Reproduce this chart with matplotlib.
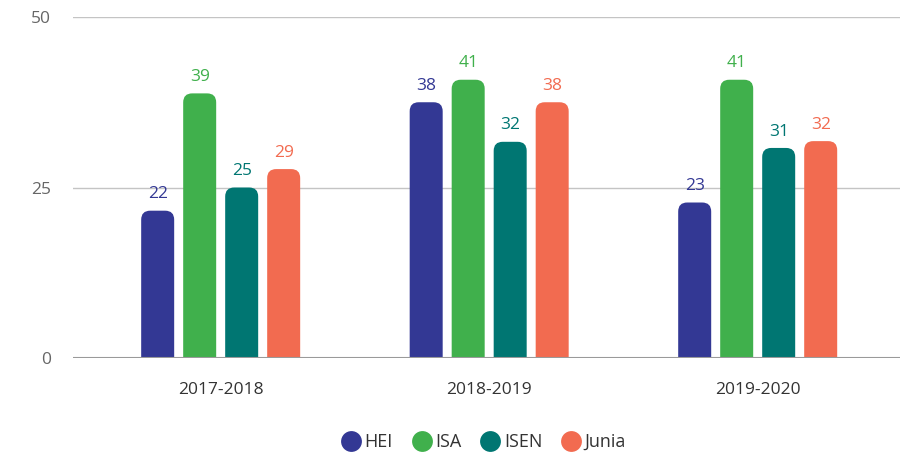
import matplotlib
matplotlib.use('Agg')
import matplotlib.pyplot as plt
from matplotlib.patches import FancyBboxPatch
from matplotlib.lines import Line2D

plt.rcParams['font.family'] = ['Open Sans', 'DejaVu Sans']

years = ['2017-2018', '2018-2019', '2019-2020']
schools = ['HEI', 'ISA', 'ISEN', 'Junia']
colors = ['#333894', '#40b04c', '#007672', '#f26b50']

# bar heights as drawn, and the labels printed above them
hei = [21.6, 37.5, 22.8]
isa = [38.8, 40.8, 40.8]
isen = [25.0, 31.7, 30.8]
junia = [27.7, 37.5, 31.8]
hei_lbl = ['22', '38', '23']
isa_lbl = ['39', '41', '41']
isen_lbl = ['25', '32', '31']
junia_lbl = ['29', '38', '32']

series = [hei, isa, isen, junia]
labels = [hei_lbl, isa_lbl, isen_lbl, junia_lbl]

W, H, DPI = 903, 458, 100
fig = plt.figure(figsize=(W / DPI, H / DPI), dpi=DPI)
ax_l, ax_r, ax_b, ax_t = 73, 900, 100, 441
ax = fig.add_axes([ax_l / W, ax_b / H, (ax_r - ax_l) / W, (ax_t - ax_b) / H])

xmin, xmax = -0.55, 2.53
ymin, ymax = 0, 50
ax.set_xlim(xmin, xmax)
ax.set_ylim(ymin, ymax)

px_x = (ax_r - ax_l) / (xmax - xmin)
px_y = (ax_t - ax_b) / (ymax - ymin)
aspect = px_x / px_y

width = 33 / px_x
pitch = 42 / px_x
radius = 9 / px_x
offsets = [(i - 1.5) * pitch for i in range(len(schools))]

for s, (vals, lbls, col) in enumerate(zip(series, labels, colors)):
    for i, (v, t) in enumerate(zip(vals, lbls)):
        x = i + offsets[s]
        box = FancyBboxPatch((x - width / 2, -3), width, v + 3,
                             boxstyle='round,pad=0,rounding_size=%f' % radius,
                             mutation_aspect=aspect, facecolor=col,
                             edgecolor='none', zorder=3)
        ax.add_patch(box)
        ax.annotate(t, (x, v), xytext=(0, 6), textcoords='offset points',
                    ha='center', va='bottom', color=col, fontsize=12.5,
                    zorder=4)

for y in [25, 50]:
    ax.axhline(y, color='#c4c4c4', lw=1, zorder=1)
ax.axhline(0, color='#9a9a9a', lw=1.5, zorder=5)

for sp in ax.spines.values():
    sp.set_visible(False)
ax.set_yticks([0, 25, 50])
ax.tick_params(axis='y', length=0, pad=16, labelsize=12.5, labelcolor='#666666')
ax.set_xticks(range(len(years)))
ax.set_xticklabels(years)
ax.tick_params(axis='x', length=0, pad=17, labelsize=12.5, labelcolor='#333333')

handles = [Line2D([], [], marker='o', linestyle='none', markersize=15,
                  markerfacecolor=c, markeredgecolor='none') for c in colors]
fig.legend(handles, schools, loc='center', bbox_to_anchor=(483 / W, 1 - 442 / H),
           ncol=4, frameon=False, handletextpad=0.15, columnspacing=1.0,
           fontsize=13, labelcolor='#333333', handlelength=1.2)

fig.savefig('out.png', dpi=DPI)
